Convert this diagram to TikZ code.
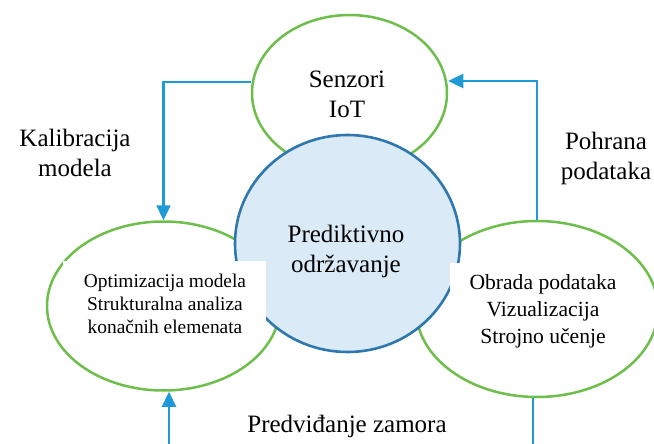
\documentclass[tikz,border=0pt]{standalone}
\usepackage{fontspec}
\setmainfont{Liberation Serif}
\usetikzlibrary{shapes.geometric,arrows.meta}
\definecolor{cgreen}{HTML}{6DBE4B}
\definecolor{cblue}{HTML}{1E9AD8}
\definecolor{cdark}{HTML}{2E78AE}
\definecolor{cfill}{HTML}{DAEAF7}
\tikzset{
  ring/.style={ellipse, draw=cgreen, line width=2.5pt, fill=white, inner sep=0pt},
  core/.style={ellipse, draw=cdark, line width=2.6pt, fill=cfill, inner sep=0pt},
  big/.style={align=center, font=\fontsize{25}{30}\selectfont, inner sep=0pt},
  lsmall/.style={align=center, font=\fontsize{19.4}{23}\selectfont, inner sep=0pt},
  rsmall/.style={align=center, font=\fontsize{21.6}{27}\selectfont, inner sep=0pt},
  flow/.style={draw=cblue, line width=2.3pt},
  arr/.style={flow, -{Triangle[length=15pt,width=14pt]}},
}
\begin{document}
\begin{tikzpicture}[x=1pt,y=-1pt]
\useasboundingbox (0,0) rectangle (654,444);
\node[ring, minimum width=195pt, minimum height=156pt] (top) at (349.5,93) {};
\node[ring, minimum width=233pt, minimum height=169pt] (left) at (163.5,306) {};
\node[ring, minimum width=242pt, minimum height=176pt] (right) at (537,309) {};
\node[core, minimum width=225pt, minimum height=217pt] (core) at (347.5,243.5) {};
\fill[white] (63,261) rectangle (266,340);
\fill[white] (450,263) rectangle (630,356);
\node[big] (tsen) at (347,94) {Senzori\\IoT};
\node[big] (tpred) at (346,251) {Prediktivno\\održavanje};
\node[big] (tkal) at (75,153) {Kalibracija\\modela};
\node[big] (tpoh) at (606,158) {Pohrana\\podataka};
\node[big] (tzam) at (347,426) {Predviđanje zamora};
\node[lsmall] (tleft) at (165,304) {Optimizacija modela\\Strukturalna analiza\\konačnih elemenata};
\node[rsmall] (tright) at (543,311.5) {Obrada podataka\\Vizualizacija\\Strojno učenje};
\draw[arr] ([yshift=11pt]top.west) -| (left.north);
\draw[arr] (right.north) |- ([yshift=12pt]top.east);
\coordinate (bl) at (169,444);
\draw[arr] (bl) -- (bl |- left.south);
\coordinate (br) at (533,444);
\draw[flow] (br |- right.south) -- (br);
\end{tikzpicture}
\end{document}
